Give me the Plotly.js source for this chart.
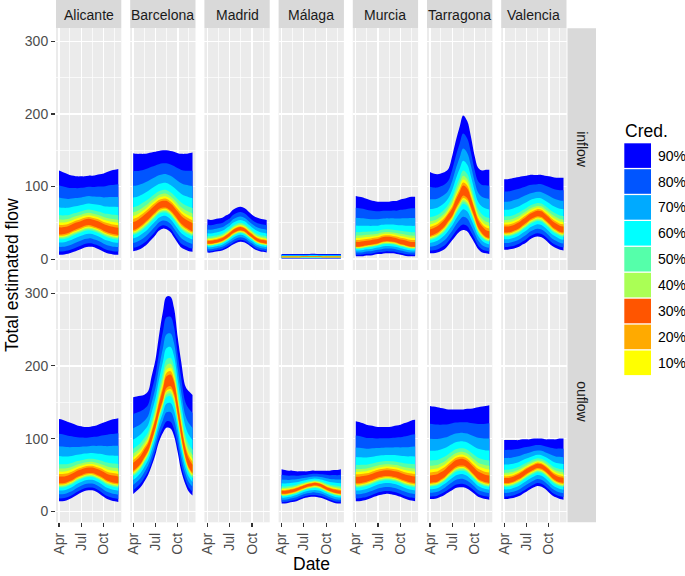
<!DOCTYPE html>
<html>
<head>
<meta charset="utf-8">
<script src="https://cdn.plot.ly/plotly-3.0.1.min.js"></script>
<style>body{margin:0;background:#fff}</style>
</head>
<body>
<div id="plot"></div>
<script>
// facets
const cities = ['Alicante', 'Barcelona', 'Madrid', 'Málaga', 'Murcia', 'Tarragona', 'Valencia'];
const directions = ['inflow', 'ouflow'];

// half-monthly dates shared by every panel
const dates = ['2017-04-01', '2017-04-15', '2017-05-01', '2017-05-15', '2017-06-01', '2017-06-15',
  '2017-07-01', '2017-07-15', '2017-08-01', '2017-08-15', '2017-09-01', '2017-09-15',
  '2017-10-01', '2017-10-15', '2017-11-01', '2017-11-15', '2017-11-30'];

// inflow: lower 90% bound, median, upper 90% bound
const alicanteInLow  = [6, 6, 7, 8, 10, 12, 14, 16, 17, 17, 15, 13, 10, 8, 7, 6, 6];
const alicanteInMed  = [38, 38, 39, 41, 44, 46, 48, 50, 51, 50, 48, 46, 43, 41, 39, 38, 37];
const alicanteInHigh = [122, 120, 118, 116, 115, 114, 114, 114, 115, 115, 116, 117, 118, 120, 122, 123, 124];

const barcelonaInLow  = [11, 12, 14, 17, 22, 27, 33, 39, 42, 41, 37, 30, 22, 16, 13, 11, 10];
const barcelonaInMed  = [44, 46, 50, 54, 59, 64, 69, 73, 75, 75, 71, 66, 59, 53, 48, 45, 42];
const barcelonaInHigh = [146, 145, 145, 145, 146, 147, 148, 149, 150, 150, 149, 148, 146, 145, 145, 146, 147];

const madridInLow  = [9, 9, 10, 11, 12, 14, 17, 20, 23, 24, 23, 20, 16, 13, 11, 10, 9];
const madridInMed  = [23, 23, 24, 25, 27, 30, 34, 38, 41, 42, 40, 36, 32, 28, 25, 24, 23];
const madridInHigh = [55, 54, 55, 56, 57, 60, 63, 68, 71, 72, 70, 66, 61, 58, 56, 55, 54];

const malagaInLow  = [0.8, 0.8, 0.8, 0.8, 0.8, 0.8, 0.8, 0.8, 0.8, 0.8, 0.8, 0.8, 0.8, 0.8, 0.8, 0.8, 0.8];
const malagaInMed  = [3, 3, 3, 3, 3, 3, 3.2, 3.2, 3.2, 3.2, 3.2, 3, 3, 3, 3, 3, 3];
const malagaInHigh = [7, 7, 7, 7, 7, 7, 7, 7, 7.5, 7.5, 7, 7, 7, 7, 7, 7, 7];

const murciaInLow  = [4, 4, 4, 5, 5, 6, 7, 7, 8, 8, 8, 7, 6, 5, 4, 4, 4];
const murciaInMed  = [19, 19, 20, 21, 22, 23, 24, 26, 27, 27, 26, 25, 23, 22, 20, 19, 19];
const murciaInHigh = [87, 86, 85, 83, 81, 80, 79, 79, 79, 79, 80, 80, 82, 83, 85, 86, 86];

const tarragonaInLow  = [8, 8, 9, 11, 14, 19, 26, 32, 38, 40, 38, 31, 22, 14, 9, 8, 7];
const tarragonaInMed  = [35, 37, 40, 44, 50, 57, 64, 75, 86, 94, 90, 78, 62, 48, 39, 34, 32];
const tarragonaInHigh = [120, 118, 117, 118, 120, 124, 142, 162, 183, 198, 190, 170, 142, 126, 122, 123, 123];

const valenciaInLow  = [13, 13, 14, 15, 17, 20, 23, 27, 30, 31, 30, 27, 22, 18, 15, 13, 12];
const valenciaInMed  = [40, 40, 41, 43, 46, 50, 54, 58, 61, 63, 62, 58, 53, 48, 44, 41, 40];
const valenciaInHigh = [110, 110, 111, 112, 113, 114, 115, 116, 116, 116, 116, 115, 114, 113, 112, 112, 112];

// outflow (Madrid has none)
const alicanteOutLow  = [14, 14, 15, 17, 20, 23, 26, 28, 29, 29, 27, 24, 20, 17, 15, 14, 13];
const alicanteOutMed  = [42, 42, 43, 45, 48, 51, 53, 55, 56, 56, 54, 52, 49, 46, 44, 43, 42];
const alicanteOutHigh = [127, 126, 124, 122, 120, 118, 117, 116, 116, 117, 118, 120, 122, 124, 126, 127, 128];

const barcelonaOutLow  = [24, 28, 33, 40, 50, 62, 78, 95, 108, 115, 114, 104, 80, 55, 37, 27, 22];
const barcelonaOutMed  = [60, 64, 70, 78, 88, 102, 120, 140, 160, 177, 180, 170, 140, 110, 80, 65, 57];
const barcelonaOutHigh = [157, 158, 159, 160, 165, 185, 208, 240, 275, 295, 295, 280, 238, 205, 172, 165, 160];

const malagaOutLow  = [11, 11, 12, 13, 14, 16, 18, 19, 20, 20, 19, 18, 16, 14, 12, 11, 11];
const malagaOutMed  = [26, 26, 27, 28, 30, 32, 34, 36, 37, 38, 37, 35, 32, 30, 28, 27, 26];
const malagaOutHigh = [58, 57, 56, 56, 55, 55, 55, 55, 56, 56, 56, 56, 56, 56, 57, 57, 58];

const murciaOutLow  = [14, 14, 15, 16, 18, 20, 22, 23, 24, 24, 23, 22, 20, 18, 16, 15, 14];
const murciaOutMed  = [42, 42, 43, 44, 46, 48, 50, 51, 52, 52, 51, 50, 48, 46, 44, 43, 42];
const murciaOutHigh = [124, 123, 121, 119, 118, 117, 116, 116, 116, 116, 117, 118, 119, 121, 123, 125, 126];

const tarragonaOutLow  = [17, 17, 18, 20, 23, 26, 29, 32, 33, 33, 31, 28, 24, 20, 18, 17, 16];
const tarragonaOutMed  = [42, 43, 44, 47, 51, 56, 61, 65, 67, 67, 64, 59, 53, 48, 45, 43, 42];
const tarragonaOutHigh = [145, 144, 143, 142, 141, 140, 140, 140, 140, 140, 141, 141, 142, 143, 144, 145, 146];

const valenciaOutLow  = [17, 17, 18, 19, 21, 24, 27, 30, 33, 35, 34, 31, 26, 22, 19, 17, 16];
const valenciaOutMed  = [42, 42, 43, 45, 48, 51, 55, 58, 61, 63, 62, 59, 54, 49, 45, 43, 42];
const valenciaOutHigh = [98, 98, 98, 98, 98, 99, 99, 99, 100, 100, 100, 99, 99, 99, 99, 100, 100];

// share of the 90% half-width reached by each interval, outer to inner (as drawn)
const bandUpper = [1, 0.76, 0.56, 0.40, 0.27, 0.20, 0.15, 0.11, 0.07];
const bandLower = [1, 0.86, 0.66, 0.47, 0.33, 0.27, 0.22, 0.18, 0.12];
const bandColors = ['#0000FF', '#0055FF', '#00AAFF', '#00FFFF', '#55FFAA', '#AAFF55', '#FFFF00', '#FFAA00', '#FF5500'];

// legend as printed
const legendLabels = ['90%', '80%', '70%', '60%', '50%', '40%', '30%', '20%', '10%'];
const legendColors = ['#0000FF', '#0055FF', '#00AAFF', '#00FFFF', '#55FFAA', '#AAFF55', '#FF5500', '#FFAA00', '#FFFF00'];

const yTicks = [0, 100, 200, 300];
const xTickVals = ['2017-04-01', '2017-07-01', '2017-10-01'];
const xTickText = ['Apr', 'Jul', 'Oct'];
const xMinorVals = ['2017-02-14', '2017-05-16', '2017-08-16', '2017-11-15'];

const panels = [
  [0, 0, alicanteInLow, alicanteInMed, alicanteInHigh],
  [1, 0, barcelonaInLow, barcelonaInMed, barcelonaInHigh],
  [2, 0, madridInLow, madridInMed, madridInHigh],
  [3, 0, malagaInLow, malagaInMed, malagaInHigh],
  [4, 0, murciaInLow, murciaInMed, murciaInHigh],
  [5, 0, tarragonaInLow, tarragonaInMed, tarragonaInHigh],
  [6, 0, valenciaInLow, valenciaInMed, valenciaInHigh],
  [0, 1, alicanteOutLow, alicanteOutMed, alicanteOutHigh],
  [1, 1, barcelonaOutLow, barcelonaOutMed, barcelonaOutHigh],
  [3, 1, malagaOutLow, malagaOutMed, malagaOutHigh],
  [4, 1, murciaOutLow, murciaOutMed, murciaOutHigh],
  [5, 1, tarragonaOutLow, tarragonaOutMed, tarragonaOutHigh],
  [6, 1, valenciaOutLow, valenciaOutMed, valenciaOutHigh]
];

const W = 685, H = 576;
const px = v => v / W;
const py = v => 1 - v / H;
const FONT = 'Liberation Sans, Arial, sans-serif';

const colLeft = 56, colStep = 74.2, colWidth = 65.3;
const rowTop = [28.3, 280], rowBottom = [270, 522.3];

const traces = [];
panels.forEach(function (p) {
  const n = p[1] * 7 + p[0] + 1;
  const low = p[2], med = p[3], high = p[4];
  for (let k = 0; k < bandColors.length; k++) {
    const lo = med.map((m, j) => m - bandLower[k] * (m - low[j]));
    const hi = med.map((m, j) => m + bandUpper[k] * (high[j] - m));
    const common = {
      x: dates, xaxis: 'x' + n, yaxis: 'y' + n, mode: 'lines',
      line: {width: 0, shape: 'spline', color: bandColors[k]},
      showlegend: false, hoverinfo: 'skip'
    };
    traces.push(Object.assign({y: lo}, common));
    traces.push(Object.assign({y: hi, fill: 'tonexty', fillcolor: bandColors[k]}, common));
  }
});
// Madrid has no outflow, but its panel is still drawn
traces.push({x: [], y: [], xaxis: 'x10', yaxis: 'y10', mode: 'lines', showlegend: false, hoverinfo: 'skip'});

const layout = {
  width: W, height: H,
  margin: {l: 0, r: 0, t: 0, b: 0},
  paper_bgcolor: '#FFFFFF',
  plot_bgcolor: '#EBEBEB',
  font: {family: FONT},
  showlegend: false,
  shapes: [],
  annotations: []
};

for (let r = 0; r < 2; r++) {
  for (let c = 0; c < 7; c++) {
    const n = r * 7 + c + 1;
    const left = colLeft + c * colStep;
    layout['xaxis' + n] = {
      type: 'date',
      domain: [px(left), px(left + colWidth)],
      anchor: 'y' + n,
      range: ['2017-03-19 19:00', '2017-12-12 05:00'],
      tickmode: 'array', tickvals: xTickVals, ticktext: xTickText,
      tickangle: -90,
      showticklabels: r === 1,
      ticks: r === 1 ? 'outside' : '', ticklen: 4, tickwidth: 1.2, tickcolor: '#333333',
      tickfont: {size: 14, color: '#4D4D4D', family: FONT},
      showgrid: true, gridcolor: '#FFFFFF', gridwidth: 1.4,
      minor: {tickmode: 'array', tickvals: xMinorVals, showgrid: true, gridcolor: '#FFFFFF', gridwidth: 0.7, ticks: ''},
      zeroline: false, showline: false, fixedrange: true
    };
    layout['yaxis' + n] = {
      domain: [py(rowBottom[r]), py(rowTop[r])],
      anchor: 'x' + n,
      range: [-15, 318],
      tickmode: 'array', tickvals: yTicks,
      showticklabels: c === 0,
      ticks: c === 0 ? 'outside' : '', ticklen: 4, tickwidth: 1.2, tickcolor: '#333333',
      tickfont: {size: 14, color: '#4D4D4D', family: FONT},
      showgrid: true, gridcolor: '#FFFFFF', gridwidth: 1.4,
      minor: {dtick: 50, tick0: 0, showgrid: true, gridcolor: '#FFFFFF', gridwidth: 0.7, ticks: ''},
      zeroline: false, showline: false, fixedrange: true
    };
  }
}

function label(x, y, text, size, color, extra) {
  return Object.assign({xref: 'paper', yref: 'paper', x: px(x), y: py(y), text: text,
    xanchor: 'center', yanchor: 'middle', showarrow: false,
    font: {size: size, color: color, family: FONT}}, extra || {});
}

// strips on top (cities)
cities.forEach(function (name, c) {
  const left = colLeft + c * colStep;
  layout.shapes.push({type: 'rect', xref: 'paper', yref: 'paper',
    x0: px(left), x1: px(left + colWidth), y0: py(28.3), y1: py(0),
    fillcolor: '#D9D9D9', line: {width: 0}, layer: 'below'});
  layout.annotations.push(label(left + colWidth / 2, 14.5, name, 14, '#1A1A1A'));
});

// strips on the right (directions)
directions.forEach(function (name, r) {
  layout.shapes.push({type: 'rect', xref: 'paper', yref: 'paper',
    x0: px(567.5), x1: px(596), y0: py(rowBottom[r]), y1: py(rowTop[r]),
    fillcolor: '#D9D9D9', line: {width: 0}, layer: 'below'});
  layout.annotations.push(label(582, (rowTop[r] + rowBottom[r]) / 2, name, 14, '#1A1A1A', {textangle: 90}));
});

// axis titles
layout.annotations.push(label(12, 275, 'Total estimated flow', 17.5, '#000000', {textangle: -90}));
layout.annotations.push(label(311, 564, 'Date', 17.5, '#000000'));

// legend
layout.annotations.push(label(623, 131, 'Cred.', 17.5, '#000000', {xanchor: 'left'}));
legendLabels.forEach(function (lab, k) {
  const top = 143.3 + k * 25.9;
  layout.shapes.push({type: 'rect', xref: 'paper', yref: 'paper',
    x0: px(624.3), x1: px(651), y0: py(top + 24.6), y1: py(top),
    fillcolor: legendColors[k], line: {width: 0}});
  layout.annotations.push(label(655.5, top + 12.3, lab, 14, '#000000', {xanchor: 'left'}));
});

Plotly.newPlot('plot', traces, layout, {staticPlot: true, displayModeBar: false});
</script>
</body>
</html>
